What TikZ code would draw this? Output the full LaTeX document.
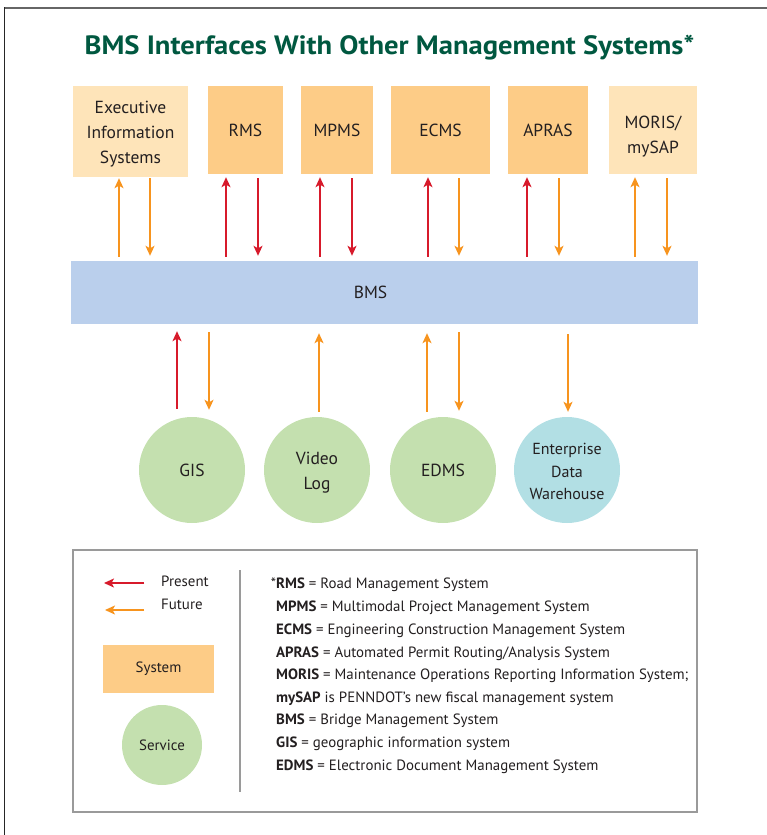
\documentclass[tikz,border=0pt]{standalone}
\usepackage{fontspec}
\setmainfont{PT Sans}
\newfontfamily\titlefont[FakeStretch=1.08]{PT Sans}
\usetikzlibrary{arrows.meta}
\definecolor{sysc}{RGB}{253,204,135}
\definecolor{sysl}{RGB}{254,228,185}
\definecolor{barc}{RGB}{186,207,236}
\definecolor{svcg}{RGB}{196,224,175}
\definecolor{svcb}{RGB}{178,223,228}
\definecolor{presc}{RGB}{215,26,43}
\definecolor{futc}{RGB}{247,148,30}
\definecolor{titlec}{RGB}{0,88,64}
\definecolor{txtc}{RGB}{35,31,32}
\definecolor{framec}{RGB}{154,154,154}
\tikzset{
  boxtxt/.style={font=\fontsize{17.5}{25}\selectfont, text=txtc, align=center, inner sep=0pt},
  sysbox/.style={boxtxt, fill=sysc, minimum height=88pt},
  syslbox/.style={boxtxt, fill=sysl, minimum height=88pt},
  barbox/.style={fill=barc, minimum width=627pt, minimum height=63pt, inner sep=0pt},
  svc/.style={boxtxt, circle, fill=svcg, minimum size=106pt},
  svcblue/.style={svc, fill=svcb, font=\fontsize{16}{22.5}\selectfont},
  tipstyle/.style={-{Stealth[length=10pt,width=9pt,inset=2.5pt]}},
  pres/.style={tipstyle, draw=presc, fill=presc, line width=1.5pt},
  fut/.style={tipstyle, draw=futc, fill=futc, line width=1.5pt},
  legtxt/.style={font=\fontsize{14.9}{17}\selectfont, text=txtc, inner sep=0pt, anchor=base west},
}
\newcommand{\trm}[1]{\textbf{#1}}
\begin{document}
\begin{tikzpicture}[x=1pt,y=-1pt]
\useasboundingbox (0,0) rectangle (767,835);
% page borders
\draw[line width=2pt, black!60] (4,7.5) -- (767,7.5);
\draw[line width=1.2pt, black!85] (4.5,7) -- (4.5,835);

% title
\node[font=\titlefont\fontsize{26.5}{30}\selectfont\bfseries, text=titlec, inner sep=0pt] (title) at (389.5,47.5) {BMS Interfaces With Other Management Systems*};

% top systems
\node[syslbox, minimum width=115pt, minimum height=91pt, label={[boxtxt,yshift=-3pt]center:{Executive\\Information\\Systems}}] (exec) at (130.5,131.5) {};
\node[sysbox, minimum width=75pt] (rms) at (245.5,130) {RMS};
\node[sysbox, minimum width=72pt] (mpms) at (337,130) {MPMS};
\node[sysbox, minimum width=99pt] (ecms) at (440.5,130) {ECMS};
\node[sysbox, minimum width=80pt] (apras) at (548,130) {APRAS};
\node[syslbox, minimum width=88pt, label={[boxtxt,yshift=-7pt]center:{MORIS/\\mySAP}}] (moris) at (653,130) {};

% BMS bar
\node[barbox, label={[boxtxt, xshift=-14pt]center:BMS}] (bms) at (384.5,292.5) {};

% services
\node[svc] (gis) at (192,470) {GIS};
\node[svc, label={[boxtxt,yshift=-3pt]center:{Video\\Log}}] (video) at (317,470) {};
\node[svc] (edms) at (443,470) {EDMS};
\node[svcblue, label={[boxtxt,font=\fontsize{16}{22.5}\selectfont,yshift=-1.5pt]center:{Enterprise\\Data\\Warehouse}}] (edw) at (567,470) {};

% top arrows
\draw[fut]  ([xshift=-11.5pt,yshift=4pt]exec.south |- bms.north) -- ([xshift=-11.5pt,yshift=-1pt]exec.south);
\draw[fut]  ([xshift=19.5pt,yshift=-1pt]exec.south) -- ([xshift=19.5pt,yshift=5pt]exec.south |- bms.north);
\draw[pres] ([xshift=-19.5pt,yshift=4pt]rms.south |- bms.north) -- ([xshift=-19.5pt,yshift=-3pt]rms.south);
\draw[pres] ([xshift=12.5pt,yshift=-4pt]rms.south) -- ([xshift=12.5pt,yshift=5pt]rms.south |- bms.north);
\draw[pres] ([xshift=-17pt,yshift=4pt]mpms.south |- bms.north) -- ([xshift=-17pt,yshift=-3pt]mpms.south);
\draw[pres] ([xshift=15pt,yshift=-4pt]mpms.south) -- ([xshift=15pt,yshift=5pt]mpms.south |- bms.north);
\draw[pres] ([xshift=-12.5pt,yshift=4pt]ecms.south |- bms.north) -- ([xshift=-12.5pt,yshift=-3pt]ecms.south);
\draw[fut]  ([xshift=18.5pt,yshift=-4pt]ecms.south) -- ([xshift=18.5pt,yshift=5pt]ecms.south |- bms.north);
\draw[pres] ([xshift=-21pt,yshift=4pt]apras.south |- bms.north) -- ([xshift=-21pt,yshift=-3pt]apras.south);
\draw[fut]  ([xshift=11pt,yshift=-4pt]apras.south) -- ([xshift=11pt,yshift=5pt]apras.south |- bms.north);
\draw[fut]  ([xshift=-18pt,yshift=4pt]moris.south |- bms.north) -- ([xshift=-18pt,yshift=-3pt]moris.south);
\draw[fut]  ([xshift=14pt,yshift=-4pt]moris.south) -- ([xshift=14pt,yshift=5pt]moris.south |- bms.north);

% bottom arrows
\draw[pres] ([xshift=-15pt,yshift=8pt]gis.north) -- ([xshift=-15pt,yshift=-7pt]gis.north |- bms.south);
\draw[fut]  ([xshift=17pt,yshift=-8pt]gis.north |- bms.south) -- ([xshift=17pt,yshift=7pt]gis.north);
\draw[fut]  ([xshift=2pt,yshift=5pt]video.north) -- ([xshift=2pt,yshift=-9pt]video.north |- bms.south);
\draw[fut]  ([xshift=-16pt,yshift=5pt]edms.north) -- ([xshift=-16pt,yshift=-9pt]edms.north |- bms.south);
\draw[fut]  ([xshift=16pt,yshift=-8pt]edms.north |- bms.south) -- ([xshift=16pt,yshift=6pt]edms.north);
\draw[fut]  ([xshift=1pt,yshift=-10pt]edw.north |- bms.south) -- ([xshift=1pt,yshift=5pt]edw.north);

% legend
\draw[framec, line width=1.5pt] (73,550) rectangle (697,812);
\draw[framec, line width=1.2pt] (240,570) -- (240,792);
\coordinate (pa) at (144,583);
\coordinate (pb) at (104,583);
\coordinate (fa) at (144,610);
\coordinate (fb) at (105,610);
\draw[pres] (pa) -- (pb);
\draw[fut] (fa) -- (fb);
\node[legtxt] (ptxt) at (161,586.5) {Present};
\node[legtxt] (ftxt) at (161,609.5) {Future};
\node[sysbox, font=\fontsize{14.9}{17}\selectfont, minimum width=111pt, minimum height=48pt] (lsys) at (158.5,669) {System};
\node[svc, font=\fontsize{14.9}{17}\selectfont, minimum size=80pt] (lsvc) at (162,745) {Service};

\node[legtxt] (d1) at (276,588) {\llap{*}\trm{RMS} = Road Management System};
\node[legtxt] (d2) at (276,611) {\trm{MPMS} = Multimodal Project Management System};
\node[legtxt] (d3) at (276,634) {\trm{ECMS} = Engineering Construction Management System};
\node[legtxt] (d4) at (276,657) {\trm{APRAS} = Automated Permit Routing/Analysis System};
\node[legtxt] (d5) at (276,679) {\trm{MORIS} = Maintenance Operations Reporting Information System;};
\node[legtxt] (d6) at (276,702) {\trm{mySAP} is PENNDOT’s new fiscal management system};
\node[legtxt] (d7) at (276,724) {\trm{BMS} = Bridge Management System};
\node[legtxt] (d8) at (276,747) {\trm{GIS} = geographic information system};
\node[legtxt] (d9) at (276,770) {\trm{EDMS} = Electronic Document Management System};
\end{tikzpicture}
\end{document}
